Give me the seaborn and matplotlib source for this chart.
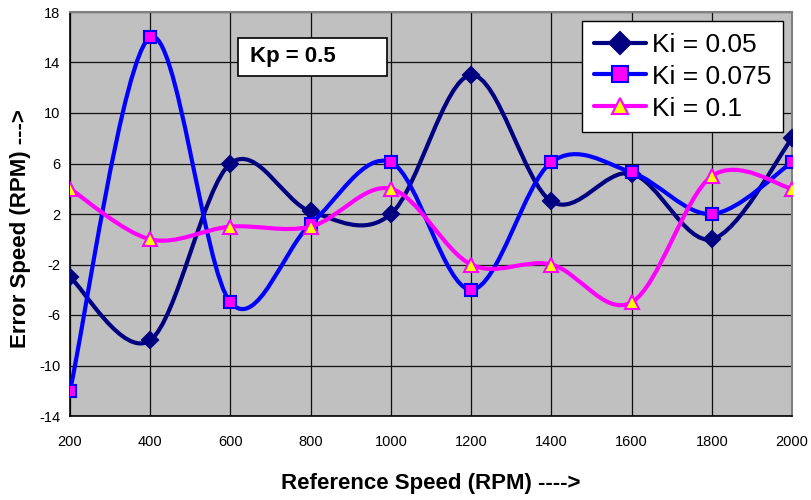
"""Error speed vs reference speed for three Ki values (Kp = 0.5)."""

import matplotlib

matplotlib.use("Agg")
import matplotlib.pyplot as plt
import numpy as np
import pandas as pd
import seaborn as sns
from matplotlib.lines import Line2D
from matplotlib.patches import PathPatch, Rectangle
from matplotlib.path import Path


SPEED = [200, 400, 600, 800, 1000, 1200, 1400, 1600, 1800, 2000]
KI_005 = [-3, -8, 6, 2.2, 2, 13, 3, 5.2, 0, 8]
KI_0075 = [-12, 16, -5, 1.2, 6.1, -4, 6.1, 5.3, 2, 6.1]
KI_01 = [4, 0, 1, 1, 4, -2, -2, -5, 5, 4]
LABELS = ["Ki = 0.05", "Ki = 0.075", "Ki = 0.1"]
Y_TICKS = [-14, -10, -6, -2, 2, 6, 10, 14, 18]
X_TICKS = SPEED

STYLES = [
    dict(color="#000080", marker="D", mfc="#000080", mec="#000080", ms=8.5),
    dict(color="#0000FF", marker="s", mfc="#FF00FF", mec="#0000FF", ms=8.5),
    dict(color="#FF00FF", marker="^", mfc="#FFFF00", mec="#FF00FF", ms=9.5),
]


def smooth_path(x, y):
    """Excel-like smoothed line: Catmull-Rom turned into cubic Bezier segments."""
    pts = np.column_stack([x, y]).astype(float)
    ext = np.vstack([pts[0], pts, pts[-1]])
    verts = [pts[0]]
    codes = [Path.MOVETO]
    for i in range(len(pts) - 1):
        p0, p1, p2, p3 = ext[i], ext[i + 1], ext[i + 2], ext[i + 3]
        verts += [p1 + (p2 - p0) / 6, p2 - (p3 - p1) / 6, p2]
        codes += [Path.CURVE4] * 3
    return Path(verts, codes)


def main() -> None:
    sns.set_theme(style="white")
    plt.rcParams["font.family"] = ["Liberation Sans", "DejaVu Sans"]
    plt.rcParams["axes.unicode_minus"] = False
    plt.rcParams["text.color"] = "black"
    plt.rcParams["axes.labelcolor"] = "black"

    df = pd.DataFrame(
        {"speed": SPEED * 3,
         "error": KI_005 + KI_0075 + KI_01,
         "series": [lab for lab in LABELS for _ in SPEED]}
    )

    fig = plt.figure(figsize=(8.11, 5.0), dpi=100)
    ax = fig.add_axes([0.0863, 0.168, 0.8903, 0.808])
    ax.set_facecolor("#C0C0C0")

    handles = []
    for k, (label, st) in enumerate(zip(LABELS, STYLES)):
        sub = df[df["series"] == label]
        patch = PathPatch(smooth_path(sub["speed"], sub["error"]), fill=False,
                          edgecolor=st["color"], lw=3, zorder=3 + 2 * k,
                          capstyle="round", joinstyle="round")
        ax.add_patch(patch)
        sns.lineplot(data=sub, x="speed", y="error", ax=ax, linestyle="none",
                     marker=st["marker"], markersize=st["ms"],
                     markerfacecolor=st["mfc"], markeredgecolor=st["mec"],
                     markeredgewidth=1.5, zorder=4 + 2 * k, legend=False)
        handles.append(Line2D([], [], color=st["color"], lw=3,
                              marker=st["marker"], markersize=st["ms"] + 2.5,
                              markerfacecolor=st["mfc"],
                              markeredgecolor=st["mec"], markeredgewidth=1.5))

    ax.set_xlim(200, 2000)
    ax.set_ylim(-14, 18)
    ax.set_xticks(X_TICKS)
    ax.set_yticks(Y_TICKS)
    ax.grid(True, color="#101010", lw=0.9)
    ax.set_axisbelow(True)
    ax.tick_params(axis="both", direction="out", length=4, width=1,
                   colors="black", labelsize=10.5)
    ax.tick_params(axis="x", pad=10)
    ax.tick_params(axis="y", pad=3)
    for side in ("left", "bottom"):
        ax.spines[side].set_color("black")
        ax.spines[side].set_linewidth(1.2)
    for side in ("top", "right"):
        ax.spines[side].set_color("#808080")
        ax.spines[side].set_linewidth(1.5)

    ax.set_xlabel("Reference Speed (RPM) ---->", fontsize=16, fontweight="bold")
    ax.set_ylabel("Error Speed (RPM) --->", fontsize=16, fontweight="bold")
    ax.xaxis.set_label_coords(0.50, -0.14)
    ax.yaxis.set_label_coords(-0.054, 0.465)

    ax.add_patch(Rectangle((0.2327, 0.842), 0.2064, 0.094, transform=ax.transAxes,
                           facecolor="white", edgecolor="black", lw=1.2, zorder=10))
    ax.text(0.250, 0.889, "Kp = 0.5", transform=ax.transAxes, fontsize=16,
            fontweight="bold", ha="left", va="center", zorder=11)

    leg = ax.legend(handles, LABELS, loc="upper right",
                    bbox_to_anchor=(0.9875, 0.978), borderaxespad=0,
                    fontsize=19, frameon=True, fancybox=False,
                    edgecolor="black", framealpha=1, handlelength=2.0,
                    handletextpad=0.2, labelspacing=0.3, borderpad=0.45)
    leg.get_frame().set_linewidth(1.0)
    leg.set_zorder(12)

    fig.savefig("out.png", dpi=100)
    plt.close(fig)


if __name__ == "__main__":
    main()
